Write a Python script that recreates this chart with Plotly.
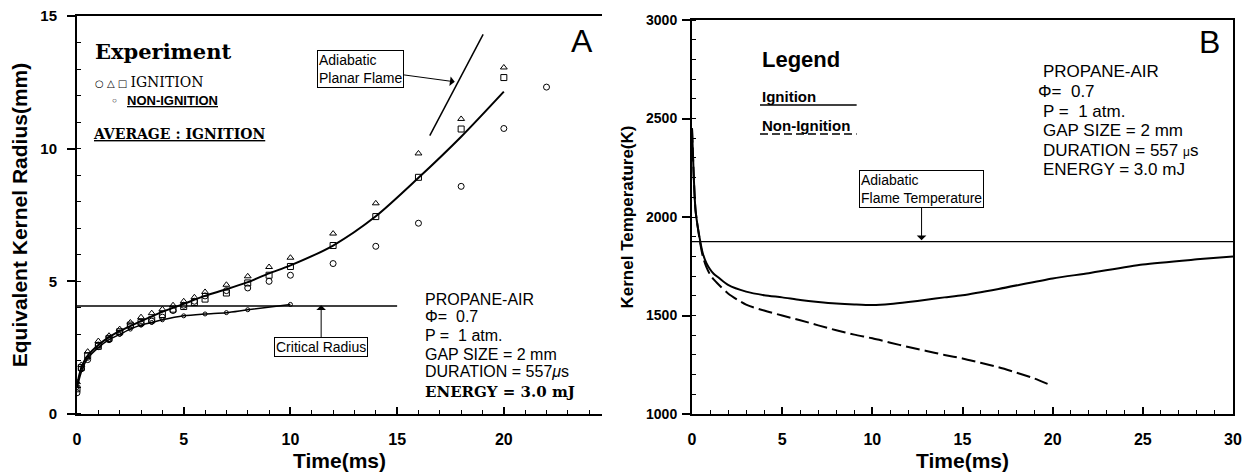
import plotly.graph_objects as go

# ---------------- Panel A data (Equivalent kernel radius, mm) ----------------
exp_t = [0, 0.2, 0.5, 1, 1.5, 2, 2.5, 3, 3.5, 4, 4.5, 5, 5.5, 6, 7, 8, 9, 10, 12, 14, 16, 18, 20]
exp_tri = [1.2, 1.85, 2.35, 2.75, 2.95, 3.2, 3.45, 3.65, 3.8, 3.95, 4.1, 4.25, 4.4, 4.6, 4.87, 5.19, 5.54, 5.89,
           6.8, 7.94, 9.82, 11.12, 13.06]
exp_sq = [0.95, 1.75, 2.2, 2.55, 2.85, 3.1, 3.35, 3.45, 3.55, 3.75, 3.95, 4.05, 4.2, 4.33, 4.56, 4.94, 5.23, 5.56,
          6.35, 7.44, 8.92, 10.74, 12.68]
exp_circ_t = [0, 0.2, 0.5, 1, 1.5, 2, 2.5, 3, 3.5, 4, 4.5, 5, 5.5, 6, 7, 8, 9, 10, 12, 14, 16, 18, 20, 22]
exp_circ = [0.8, 1.7, 2.05, 2.6, 2.8, 3.05, 3.3, 3.4, 3.5, 3.65, 3.9, 4.1, 4.25, 4.45, 4.65, 4.75, 5.0, 5.23,
            5.67, 6.32, 7.19, 8.58, 10.76, 12.32]

avg_t = [0, 0.1, 0.25, 0.5, 1, 1.5, 2, 3, 4, 5, 6, 7, 8, 9, 10, 12, 14, 16, 18, 20]
avg_r = [1.0, 1.45, 1.85, 2.2, 2.6, 2.9, 3.12, 3.5, 3.85, 4.15, 4.45, 4.7, 4.97, 5.3, 5.6, 6.35, 7.45, 8.9, 10.45,
         12.15]

non_t = [0, 0.25, 0.5, 1, 1.5, 2, 2.5, 3, 3.5, 4, 5, 6, 7, 8, 10]
non_r = [1.0, 1.7, 2.1, 2.5, 2.8, 3.0, 3.2, 3.35, 3.45, 3.55, 3.7, 3.77, 3.82, 3.93, 4.13]

crit_t = [0, 15]
crit_r = [4.07, 4.07]

planar_t = [16.53, 19.03]
planar_r = [10.49, 14.31]

# ---------------- Panel B data (Kernel temperature, K) ----------------
ign_t = [0, 0.1, 0.2, 0.45, 0.6, 0.8, 1.0, 1.2, 1.5, 2, 3, 4, 5, 6, 7, 8, 9, 10, 11, 12, 13, 14, 15, 17, 20, 22,
         25, 28, 30]
ign_T = [2450, 2200, 2030, 1880, 1815, 1766, 1735, 1712, 1690, 1655, 1621, 1603, 1592, 1579, 1569, 1561, 1556,
         1553, 1558, 1568, 1580, 1592, 1603, 1635, 1688, 1715, 1759, 1785, 1800]

non_ign_t = [0, 0.1, 0.2, 0.45, 0.6, 0.8, 1.0, 1.2, 1.5, 2, 3, 4, 5, 6, 7, 8, 9, 10, 11, 12, 13, 14, 15, 16, 17,
             18, 19, 19.8]
non_ign_T = [2450, 2200, 2030, 1870, 1800, 1745, 1708, 1683, 1655, 1612, 1555, 1525, 1500, 1476, 1450, 1425, 1403,
             1384, 1362, 1340, 1320, 1300, 1282, 1260, 1237, 1210, 1180, 1150]

flame_t = [0, 30]
flame_T = [1875, 1875]

SANS = "Liberation Sans, Arial, sans-serif"
SERIF = "DejaVu Serif, serif"

fig = go.Figure()

# Panel A traces
fig.add_trace(go.Scatter(x=exp_t, y=exp_tri, mode="markers", xaxis="x", yaxis="y",
                         marker=dict(symbol="triangle-up-open", size=6, color="black", line=dict(width=1))))
fig.add_trace(go.Scatter(x=exp_t, y=exp_sq, mode="markers", xaxis="x", yaxis="y",
                         marker=dict(symbol="square-open", size=6, color="black", line=dict(width=1))))
fig.add_trace(go.Scatter(x=exp_circ_t, y=exp_circ, mode="markers", xaxis="x", yaxis="y",
                         marker=dict(symbol="circle-open", size=6, color="black", line=dict(width=1))))
fig.add_trace(go.Scatter(x=avg_t, y=avg_r, mode="lines", xaxis="x", yaxis="y",
                         line=dict(color="black", width=2, shape="spline", smoothing=0.8)))
fig.add_trace(go.Scatter(x=non_t, y=non_r, mode="lines+markers", xaxis="x", yaxis="y",
                         line=dict(color="black", width=1.5, shape="spline", smoothing=0.8),
                         marker=dict(symbol="circle-open", size=4, color="black", line=dict(width=1))))
fig.add_trace(go.Scatter(x=crit_t, y=crit_r, mode="lines", xaxis="x", yaxis="y",
                         line=dict(color="black", width=1.3)))
fig.add_trace(go.Scatter(x=planar_t, y=planar_r, mode="lines", xaxis="x", yaxis="y",
                         line=dict(color="black", width=1.5)))

# Panel B traces
fig.add_trace(go.Scatter(x=ign_t, y=ign_T, mode="lines", xaxis="x2", yaxis="y2",
                         line=dict(color="black", width=2, shape="spline", smoothing=0.7)))
fig.add_trace(go.Scatter(x=non_ign_t, y=non_ign_T, mode="lines", xaxis="x2", yaxis="y2",
                         line=dict(color="black", width=2, shape="spline", smoothing=0.7, dash="14px,5px")))
fig.add_trace(go.Scatter(x=flame_t, y=flame_T, mode="lines", xaxis="x2", yaxis="y2",
                         line=dict(color="black", width=1.3)))


def axis(**kw):
    d = dict(showline=True, linecolor="black", linewidth=2, showgrid=False, zeroline=False,
             ticks="inside", tickcolor="black", tickwidth=1.5, ticklen=7,
             tickfont=dict(family=SANS, size=16, color="black", weight="bold"),
             automargin=False, ticklabeloverflow="allow",
             minor=dict(ticks="inside", ticklen=4, tickcolor="black", tickwidth=1, dtick=1))
    d.update(kw)
    return d


# the page body adds an 8px offset, so the figure is 1246x465
fig.update_layout(
    width=1246, height=465, margin=dict(l=0, r=0, t=0, b=0),
    template="none", paper_bgcolor="white", plot_bgcolor="white", showlegend=False,
    xaxis=axis(domain=[0.05538, 0.47673], range=[0, 24.6], anchor="y", dtick=5, tick0=0,
               mirror=True, ticklabelstandoff=10,
               title=dict(text="Time(ms)", font=dict(family=SANS, size=21, color="black", weight="bold"),
                          standoff=6)),
    yaxis=axis(domain=[0.12688, 0.98280], range=[0, 15], anchor="x", dtick=5, tick0=0,
               ticks="outside", ticklen=8, ticklabelstandoff=7,
               tickfont=dict(family=SANS, size=15, color="black", weight="bold"),
               title=dict(text="Equivalent Kernel Radius(mm)",
                          font=dict(family=SANS, size=21, color="black", weight="bold"), standoff=8)),
    xaxis2=axis(domain=[0.54896, 0.98315], range=[0, 30], anchor="y2", dtick=5, tick0=0,
                mirror=True, ticklabelstandoff=10,
                title=dict(text="Time(ms)", font=dict(family=SANS, size=21, color="black", weight="bold"),
                           standoff=6)),
    yaxis2=axis(domain=[0.12688, 0.97419], range=[1000, 3000], anchor="x2", dtick=500, tick0=1000,
                mirror=True, ticks="outside", ticklen=8, ticklabelstandoff=2,
                tickfont=dict(family=SANS, size=14, color="black", weight="bold"),
                minor=dict(ticks="inside", ticklen=4, tickcolor="black", tickwidth=1, dtick=100),
                title=dict(text="Kernel Temperature(K)",
                           font=dict(family=SANS, size=17, color="black", weight="bold"), standoff=8)),
)

ann = []


def txt(x, y, text, size, family=SANS, xanchor="left", xref="x", yref="y", **kw):
    ann.append(dict(x=x, y=y, xref=xref, yref=yref, text=text, showarrow=False, xanchor=xanchor,
                    yanchor="middle", font=dict(family=family, size=size, color="black", **kw)))


# Panel A texts
txt(0.75, 13.68, "Experiment", 21, family=SERIF, weight="bold")
txt(0.75, 12.52, "<span style='font-size:10px'>○ △ □ </span>IGNITION", 14, family=SERIF)
txt(1.55, 11.8, "<span style='font-size:8px'>○</span>", 8, family=SANS)
txt(2.25, 11.8, "<u>NON-IGNITION</u>", 13, weight="bold")
txt(0.66, 10.56, "<u>AVERAGE : IGNITION</u>", 14, family=SERIF, weight="bold")
txt(23.64, 14.06, "A", 32, xanchor="center")
left_lines = ["PROPANE-AIR", "Φ=  0.7", "P =  1 atm.", "GAP SIZE = 2 mm", "DURATION = 557<i>μ</i>s"]
left_y = [4.32, 3.66, 2.97, 2.26, 1.59]
for s, yy in zip(left_lines, left_y):
    txt(16.2, yy, s, 16)
txt(16.2, 0.83, "ENERGY = 3.0 mJ", 15, family=SERIF, weight="bold")

# boxed arrows panel A
ann.append(dict(x=17.7, y=12.52, xref="x", yref="y", ax=13.3, ay=13.0, axref="x", ayref="y",
                text="Adiabatic<br>Planar Flame", align="left", showarrow=True, arrowhead=1,
                arrowsize=1.6, arrowwidth=1, arrowcolor="black", bordercolor="black", borderwidth=1,
                borderpad=1, bgcolor="white", font=dict(family=SANS, size=14, color="black")))
ann.append(dict(x=11.44, y=4.1, xref="x", yref="y", ax=11.44, ay=2.52, axref="x", ayref="y",
                text="Critical Radius", showarrow=True, arrowhead=1, arrowsize=1.6, arrowwidth=1,
                arrowcolor="black", bordercolor="black", borderwidth=1, borderpad=1, bgcolor="white",
                font=dict(family=SANS, size=14, color="black")))

# Panel B texts
txt(3.77, 2797, "Legend", 22, xref="x2", yref="y2", weight="bold")
txt(3.77, 2611, "Ignition", 15, xref="x2", yref="y2", weight="bold")
txt(3.77, 2467, "Non-Ignition", 15, xref="x2", yref="y2", weight="bold")
txt(28.67, 2888, "B", 32, xanchor="center", xref="x2", yref="y2")
right_lines = ["PROPANE-AIR", "Φ=  0.7", "P =  1 atm.", "GAP SIZE = 2 mm",
               "DURATION = 557 <span style='font-size:12px'>μ</span>s", "ENERGY = 3.0 mJ"]
right_y = [2738, 2638, 2538, 2439, 2339, 2239]
right_x = [19.34, 19.1, 19.34, 19.34, 19.34, 19.34]
for s, xx, yy in zip(right_lines, right_x, right_y):
    txt(xx, yy, s, 17, xref="x2", yref="y2")
ann.append(dict(x=12.73, y=1882, xref="x2", yref="y2", ax=12.73, ay=2140, axref="x2", ayref="y2",
                text="Adiabatic<br>Flame Temperature", align="left", showarrow=True, arrowhead=1,
                arrowsize=1.6, arrowwidth=1, arrowcolor="black", bordercolor="black", borderwidth=1,
                borderpad=1, bgcolor="white", font=dict(family=SANS, size=14, color="black")))

fig.update_layout(annotations=ann)

# legend sample underlines in panel B
fig.add_shape(type="line", xref="x2", yref="y2", x0=3.77, x1=9.13, y0=2568, y1=2568,
              line=dict(color="black", width=1.5))
fig.add_shape(type="line", xref="x2", yref="y2", x0=3.77, x1=9.13, y0=2421, y1=2421,
              line=dict(color="black", width=1.5, dash="8px,4px"))

fig.write_html("out.html")
